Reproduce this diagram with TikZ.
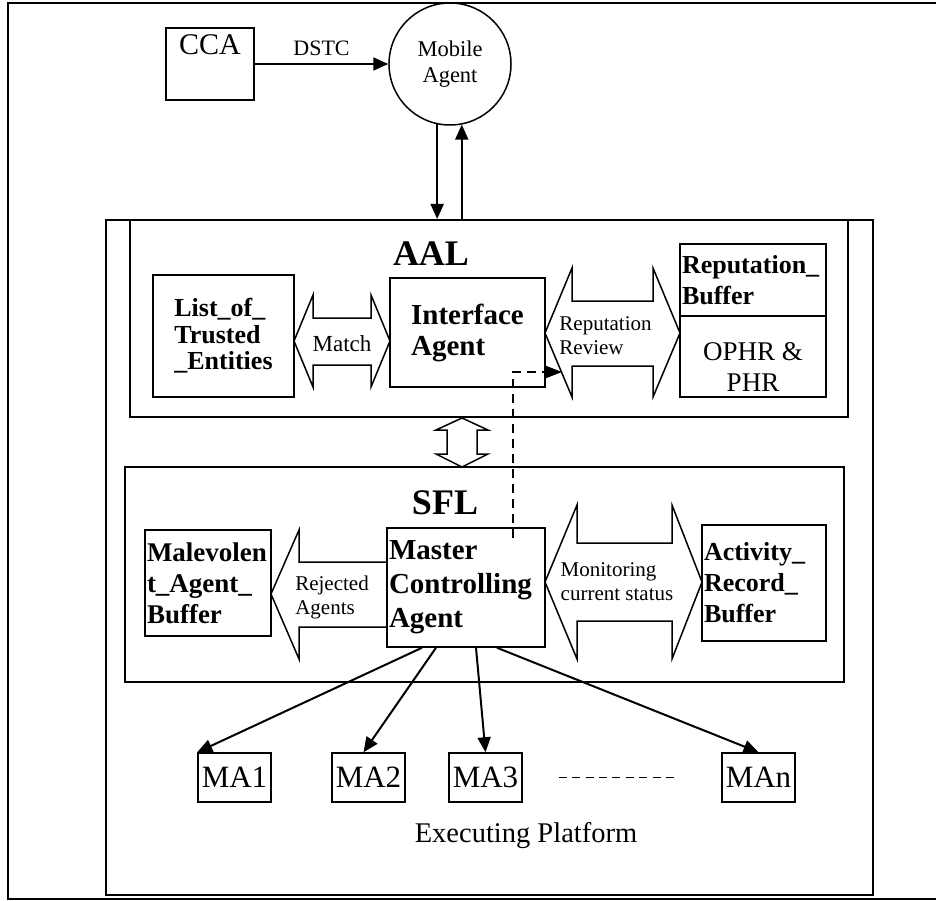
\documentclass[tikz,border=0pt]{standalone}
\usepackage{fontspec}
\setmainfont{Liberation Serif}
\usetikzlibrary{arrows.meta}
\tikzset{
  box/.style={draw,line width=1.5pt,inner sep=2pt},
  frame/.style={draw,line width=2pt,inner sep=0pt},
  blockarrow/.style={draw,line width=1.5pt,line join=miter},
  arrow/.style={line width=2pt,-{Triangle[length=15pt,width=13pt]}},
  smalltxt/.style={font=\fontsize{21}{24}\selectfont,align=left},
}

\begin{document}
\begin{tikzpicture}[x=1pt,y=-1pt]
\useasboundingbox (0,0) rectangle (936,901);
\draw[line width=2pt] (936,3) -- (8,3) -- (8,899) -- (936,899);

% sender side
\node[box,minimum width=88,minimum height=72,label={[anchor=north,yshift=-4pt,font=\fontsize{30}{34}\selectfont]north:CCA}] (cca) at (210,64) {};
\node[draw,circle,line width=1.5pt,minimum size=122,inner sep=0pt,align=center,font=\fontsize{22.5}{26}\selectfont] (mobile) at (450,64) {Mobile\\Agent};
\draw[arrow] (cca.east) -- node[above,yshift=4pt,font=\fontsize{22}{26}\selectfont] (dstc) {DSTC} (mobile.west);

% platform and layers
\node[frame,minimum width=767,minimum height=675] (exec) at (489.5,557.5) {};
\node[frame,minimum width=718,minimum height=197] (aal) at (489,318.5) {};
\node[frame,minimum width=719,minimum height=215] (sfl) at (484.5,574.5) {};
\draw[arrow] (mobile.258) -- (mobile.258 |- exec.north);
\draw[arrow] (mobile.281 |- exec.north) -- (mobile.281);
\node[font=\bfseries\fontsize{36}{40}\selectfont] (aallbl) at (431,254) {AAL};
\node[font=\bfseries\fontsize{36}{40}\selectfont] (sfllbl) at (445,503) {SFL};

% AAL
\node[box,minimum width=141,minimum height=122,align=left,font=\bfseries\fontsize{26}{26.5}\selectfont] (trusted) at (223.5,336) {List\_of\_\\Trusted\\\_Entities};
\node[box,minimum width=155,minimum height=109,align=left,font=\bfseries\fontsize{29}{31}\selectfont] (iface) at (467.5,332.5) {Interface\\Agent};
\node[box,minimum width=146,minimum height=72,text width=142,align=left,font=\bfseries\fontsize{26}{31}\selectfont] (repbuf) at (753,280) {Reputation\_\\Buffer};
\node[box,minimum width=146,minimum height=81,label={[yshift=-11pt,align=center,font=\fontsize{27}{31}\selectfont]center:OPHR \&\\PHR}] (phr) at (753,356.5) {};
\draw[blockarrow] (294,341) -- (313,295) -- (313,318) -- (371,318) -- (371,295) -- (390,341) -- (371,387) -- (371,365) -- (313,365) -- (313,387) -- cycle;
\node[font=\fontsize{23}{26}\selectfont] (matchlbl) at (342,344) {Match};
\draw[blockarrow] (545,333) -- (572,268) -- (572,301) -- (653,301) -- (653,268) -- (680,333) -- (653,397) -- (653,366) -- (572,366) -- (572,397) -- cycle;
\node[smalltxt] (reviewlbl) at (605.5,336) {Reputation\\Review};

% between layers
\draw[blockarrow] (462,418) -- (488,430) -- (477,430) -- (477,454) -- (488,454) -- (462,467) -- (436,454) -- (447,454) -- (447,430) -- (436,430) -- cycle;

% SFL
\node[box,minimum width=126,minimum height=106,text width=122,align=left,font=\bfseries\fontsize{27}{31}\selectfont] (malbuf) at (208,583) {Malevolen\\t\_Agent\_\\Buffer};
\node[box,minimum width=158,minimum height=119,text width=154,align=left,font=\bfseries\fontsize{29}{34}\selectfont] (master) at (466,587.5) {Master\\Controlling\\Agent};
\node[box,minimum width=124,minimum height=116,text width=120,align=left,font=\bfseries\fontsize{26}{31}\selectfont] (actbuf) at (764,583) {Activity\_\\Record\_\\Buffer};
\draw[blockarrow] (271,594) -- (299,530) -- (299,562) -- (387,562) -- (387,627) -- (299,627) -- (299,659) -- cycle;
\node[smalltxt] (rejlbl) at (332,597) {Rejected\\Agents};
\draw[blockarrow] (545,582) -- (577,505) -- (577,543) -- (672,543) -- (672,505) -- (702,582) -- (672,659) -- (672,621) -- (577,621) -- (577,659) -- cycle;
\node[smalltxt] (monlbl) at (617,582) {Monitoring\\current status};

% dashed link
\coordinate (dashend) at (562,372);
\draw[line width=1.5pt,dash pattern=on 9pt off 6pt,-{Triangle[length=16pt,width=12pt]}] ([shift={(47,11)}]master.north) |- (dashend);

% executing platform
\node[box,minimum width=73,minimum height=49,inner sep=0pt,font=\fontsize{31}{34}\selectfont] (ma1) at (234.5,777.5) {MA1};
\node[box,minimum width=73,minimum height=49,inner sep=0pt,font=\fontsize{31}{34}\selectfont] (ma2) at (368.5,777.5) {MA2};
\node[box,minimum width=73,minimum height=49,inner sep=0pt,font=\fontsize{31}{34}\selectfont] (ma3) at (485.5,777.5) {MA3};
\node[box,minimum width=73,minimum height=49,inner sep=0pt,font=\fontsize{31}{34}\selectfont] (man) at (758.5,777.5) {MAn};
\draw[line width=1.5pt,dash pattern=on 8pt off 5.4pt,shorten <=36pt,shorten >=45pt] (ma3.east) -- (man.west);
\draw[arrow] ([xshift=-44pt]master.south) -- (ma1.north west);
\draw[arrow] ([xshift=-30pt]master.south) -- ([xshift=-5pt]ma2.north);
\draw[arrow] ([xshift=10pt]master.south) -- (ma3.north);
\draw[arrow] ([xshift=31pt]master.south) -- (man.north);
\node[font=\fontsize{28.5}{32}\selectfont] (execlbl) at (526,836) {Executing Platform};
\end{tikzpicture}
\end{document}
